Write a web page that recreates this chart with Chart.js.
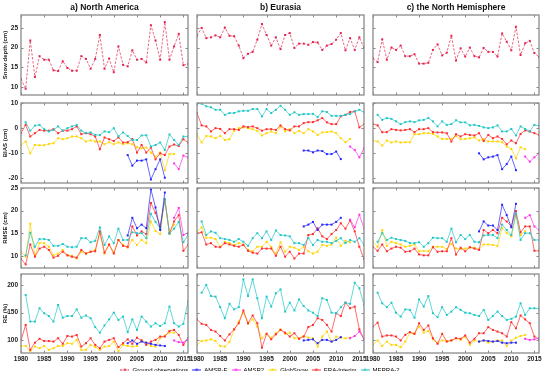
<!DOCTYPE html>
<html>
<head>
<meta charset="utf-8">
<title>Snow depth evaluation</title>
<script src="https://cdn.jsdelivr.net/npm/chart.js@4.4.1/dist/chart.umd.min.js"></script>
<style>
  html, body { margin: 0; padding: 0; background: #ffffff; }
  #fig { position: relative; width: 550px; height: 378px; overflow: hidden; }
  #fig canvas { position: absolute; }
</style>
</head>
<body>
<div id="fig"></div>
<script>
// x axis
const years = [1980, 1981, 1982, 1983, 1984, 1985, 1986, 1987, 1988, 1989,
               1990, 1991, 1992, 1993, 1994, 1995, 1996, 1997, 1998, 1999,
               2000, 2001, 2002, 2003, 2004, 2005, 2006, 2007, 2008, 2009,
               2010, 2011, 2012, 2013, 2014, 2015, 2016];
const merraYears = years.slice(1);       // 1981-2016
const globYears = years.slice(0, 34);    // 1980-2013
const amsreYears = years.slice(23, 32);  // 2003-2011
const amsr2Years = years.slice(33);      // 2013-2016

const regions = ['a) North America', 'b) Eurasia', 'c) the North Hemisphere'];
const rowLabels = ['Snow depth (cm)', 'BIAS (cm)', 'RMSE (cm)', 'RE (%)'];
const seriesNames = ['Ground observations', 'AMSR-E', 'AMSR2', 'GlobSnow', 'ERA-Interim', 'MERRA-2'];
const xTicks = [1980, 1985, 1990, 1995, 2000, 2005, 2010, 2015];
const yTicks = [[10, 15, 20, 25], [-20, -10, 0, 10], [10, 15, 20, 25], [100, 150, 200]];
const yRange = [[7.9, 28.3], [-21.8, 10], [7.3, 25], [77.4, 219.7]];

// ground observations (snow depth)
const groundNA = [12.0, 9.5, 21.8, 12.5, 17.8, 16.9, 16.9, 14.2, 14.0, 16.5, 14.8, 14.1, 14.1, 17.8, 17.1, 14.6, 17.1, 23.2, 14.6, 17.2, 13.7, 20.3, 15.6, 15.2, 19.3, 16.9, 17.1, 16.2, 25.7, 21.8, 16.9, 26.5, 16.9, 20.3, 23.5, 15.5, 15.8];
const groundEU = [23.0, 25.0, 22.4, 22.6, 23.1, 22.6, 25.1, 23.0, 22.9, 20.5, 17.3, 18.4, 18.9, 22.0, 26.0, 23.2, 20.5, 22.6, 19.6, 23.2, 23.7, 19.9, 21.0, 21.0, 20.7, 21.4, 21.3, 19.4, 20.5, 20.9, 22.0, 23.7, 19.3, 22.4, 19.4, 22.6, 19.9];
const groundNH = [17.3, 16.3, 22.1, 16.9, 20.0, 19.4, 20.5, 17.8, 17.8, 18.3, 15.9, 15.9, 16.1, 19.4, 20.8, 18.0, 18.7, 23.0, 16.7, 19.8, 17.7, 20.0, 17.8, 17.5, 19.9, 18.9, 18.9, 17.7, 23.6, 21.5, 19.3, 25.3, 18.1, 21.1, 21.7, 18.6, 17.6];

// BIAS
const naBiasAmsrE = [-10.7, -14.9, -12.9, -12.9, -12.4, -20.4, -16.3, -12.4, -19.7];
const naBiasAmsr2 = [-14, -16.3, -10.9, -11.7];
const naBiasGlob = [-6.7, -5.3, -10, -6.7, -6.8, -6.8, -6.3, -6, -4, -4.4, -4, -3.3, -3.3, -4, -5.3, -4.9, -5.3, -5.3, -6.4, -5.6, -6.4, -5.7, -6.4, -6, -6.4, -7.6, -8, -7.7, -9.7, -11.3, -9.7, -16.7, -10.3, -10.3];
const naBiasEra = [-2, 1.3, -3.3, -2, -0.7, -1, -1, -0.4, -2, -1, -1, -0.4, 0.7, -2.4, -2, -2.4, -3.3, -8.4, -3.7, -4.4, -5.1, -3.7, -5.7, -5.6, -4.3, -9.7, -6.7, -9.7, -7.7, -12.4, -10, -10.7, -7.3, -6.5, -7.1, -4.4, -5.7];
const naBiasMerra = [2.3, -1, 1, 1.3, -0.4, -1.3, -0.7, 0.7, -1, 0, 0.7, 1.3, -1, -2, -1.7, -2.7, -2.7, -1.3, -1.6, 0, -3.3, -1.7, -3.1, -4.7, -4.7, -2.9, -2.8, -7.3, -6.7, -5.7, -8.7, -2.5, -4.7, -6.7, -3.3, -3.3];

const euBiasAmsrE = [-8.9, -8.9, -9.6, -8.9, -9.1, -10.3, -10.3, -9.3, -12.3];
const euBiasAmsr2 = [-7.3, -8.7, -11.6, -8];
const euBiasGlob = [-2.4, -5.7, -3.1, -3.3, -4, -3.1, -4.7, -4.4, -1.1, 0, 0.3, 0, -0.4, -1.1, -2.9, -2, -1.3, -2, 0.4, -1.3, -0.4, -2, -1.1, -2, -0.4, -1.3, -2.7, -1.7, -1.6, -1.3, -2, -4, -5.6, -4.3];
const euBiasEra = [6, 1.1, 0.7, -1.3, 0, -0.3, -2, -0.4, -0.4, -0.7, 0.7, 0.4, 0.7, 0, -1, -0.4, -0.4, -0.7, 1.1, -0.4, -0.9, 0.7, 0.7, 2, 2.4, 2.4, 3.1, 4, 2.3, 1.6, 1.6, 4.7, 5.3, 6.4, 6.7, 0.3, 1.6];
const euBiasMerra = [9.7, 8.7, 8.3, 7.3, 7.3, 5.3, 6, 6, 6.7, 6.9, 6.9, 7.6, 7.6, 4.7, 7.6, 6, 7.3, 8.9, 7.3, 5.3, 6.3, 5.3, 5.6, 5.6, 5.7, 4.4, 6.7, 6.4, 4.9, 4.9, 4.9, 5.3, 5.6, 6.7, 7.3, 6.3];

const nhBiasAmsrE = [-10, -12.4, -11.6, -11.3, -10.7, -16.3, -14.3, -11.3, -16.7];
const nhBiasAmsr2 = [-11.3, -13.3, -11.6, -10];
const nhBiasGlob = [-4.9, -5.3, -6.9, -4.9, -5.7, -5.3, -5.7, -5.6, -5.6, -2.4, -2.4, -2, -2, -2.3, -3.3, -4.3, -4.3, -4.3, -3.1, -4.4, -4.3, -4, -3.7, -4.9, -4.4, -5.3, -5.3, -5.3, -5.6, -7.3, -8.3, -12, -7.6, -8.4];
const nhBiasEra = [1.7, 1.1, -1.6, -1.6, -0.4, -0.7, -0.9, -0.7, -0.4, -1.6, -0.4, -0.4, 0, -1.6, -1.7, -1.7, -2, -5.3, -2.4, -3.3, -2.4, -2.7, -2.9, -2, -5.1, -2.7, -4, -3.3, -4.3, -6.4, -4.9, -6, -2.3, -0.9, -1.3, -2, -2.7];
const nhBiasMerra = [5.3, 3.3, 4, 3.7, 2.7, 1.6, 2.4, 2.7, 2.4, 3.1, 3.3, 4, 2.7, 0.7, 2.7, 1.3, 1.6, 3.1, 2.3, 2.3, 1.1, 1.3, 0.9, 0.3, 0, 0.3, 1.1, -1.3, -1.3, -0.3, -2.9, 0.7, -0.3, -1.3, 1.3, 0.9];

// RMSE
const naRmseAmsrE = [14.5, 18.4, 16.1, 16.9, 16.1, 24.7, 20.7, 15.7, 24];
const naRmseAmsr2 = [18.4, 20.6, 14.6, 15.1];
const naRmseGlob = [10.9, 9.8, 17.1, 10.1, 12.8, 12.8, 12, 10.1, 10.5, 11.3, 10.1, 10, 9.4, 10.9, 10.5, 10.9, 11.3, 15, 10.5, 12.5, 10.7, 13.5, 12.4, 11.8, 13.5, 12.4, 13.5, 12.8, 17.6, 15.5, 14.8, 22.5, 14.9, 16.9];
const naRmseEra = [9.3, 8.1, 12.5, 9.8, 11.6, 12, 11.3, 9.6, 10, 10.9, 10.1, 9.8, 9.6, 11.3, 10.5, 10.9, 11, 15.4, 10.7, 12.5, 10.5, 13.5, 12.2, 12, 16.5, 14.5, 15.4, 14.8, 21.7, 19.5, 16.5, 22.5, 15, 17.6, 19, 11.1, 12.4];
const naRmseMerra = [10.1, 15.1, 12, 13.7, 13.7, 13.5, 12.2, 12.2, 12.6, 12, 11.9, 12, 13.9, 13.9, 13, 13.3, 16.3, 12.4, 14.3, 12.8, 16, 13.5, 13.5, 15.2, 15, 15, 13.9, 19.3, 17.5, 16.1, 22.5, 14.9, 16, 17.5, 13, 14.6];

const euRmseAmsrE = [16.5, 16.9, 17.5, 15.7, 16.9, 16.9, 16.9, 17.5, 18.4];
const euRmseAmsr2 = [18, 16.3, 19.1, 16.1];
const euRmseGlob = [15.4, 16.3, 14, 14, 13.7, 12, 13.1, 12.8, 12.4, 12.8, 12.5, 11.3, 11, 12, 12, 13.1, 12, 10.5, 13, 10.9, 12, 11.8, 11.3, 12, 11, 10.5, 10.9, 12.4, 12.2, 12.5, 14, 12.2, 13.3, 13];
const euRmseEra = [15, 15.2, 12.5, 12.8, 12, 11.9, 12.8, 12.5, 12.2, 12, 12.4, 11.1, 10.7, 10.5, 11.6, 11.6, 11.6, 10, 12, 9.8, 10.9, 9.4, 10.5, 10.5, 14.6, 14.8, 16.1, 14.3, 13.7, 14.8, 15.7, 17.2, 16, 17.8, 15.4, 12, 9.3];
const euRmseMerra = [17.6, 14.6, 15.4, 15.1, 13.9, 13.7, 13.5, 13.1, 13.7, 13.1, 12.2, 13.9, 15, 13.9, 15.4, 13.5, 15.6, 14.6, 14.5, 14.3, 12.8, 12.8, 12.4, 13.9, 12.4, 13.5, 13.1, 13.1, 12.8, 13.3, 13.9, 12.8, 13.5, 13.1, 13.9, 12.4];

const nhRmseAmsrE = [15.4, 17.6, 16.7, 16.7, 15.7, 21.3, 19, 16.3, 21.5];
const nhRmseAmsr2 = [18.4, 19, 16.5, 15.7];
const nhRmseGlob = [13, 12, 15.7, 12.2, 13.1, 12.8, 12.5, 12, 12.2, 12.5, 11, 11.1, 11, 12, 12, 12, 11.5, 12.6, 11.6, 11.5, 11.6, 11.8, 11.8, 11.4, 12.5, 12.5, 12.4, 12.2, 16.1, 15, 14.3, 19.1, 14.6, 15.4];
const nhRmseEra = [12, 11.1, 12.5, 11, 11.6, 12, 11.8, 10.9, 11, 11.6, 10.3, 10.1, 10.1, 11.9, 10.9, 11, 11, 13.9, 10.3, 11.8, 11, 11.9, 11.6, 11.3, 15.7, 15, 15.7, 15, 18.4, 17.6, 16.5, 19.9, 15.2, 16.5, 16.5, 11.1, 11.1];
const nhRmseMerra = [13.1, 15, 13.5, 14, 13.7, 13.5, 13.3, 12.8, 12.8, 13, 12, 12.8, 14, 13.9, 13.9, 13.1, 16, 13, 14.6, 13.7, 14.6, 13.1, 13, 14.5, 14.6, 14.6, 13.9, 16.9, 15.7, 14.6, 19.3, 13.5, 15, 15, 13.5, 13.5];

// RE
const naReAmsrE = [95, 100, 94, 98, 96, 94, 92, 91, 90];
const naReAmsr2 = [100, 97, 96, 104];
const naReGlob = [90, 90, 81, 89, 86, 90, 83, 86, 90, 90, 95, 94, 101, 83, 83, 92, 88, 83, 89, 90, 98, 81, 92, 90, 89, 90, 100, 96, 90, 89, 104, 109, 114, 114];
const naReEra = [100, 128, 83, 96, 103, 99, 99, 98, 104, 94, 108, 107, 110, 89, 95, 104, 92, 86, 98, 101, 104, 88, 95, 102, 94, 105, 100, 92, 98, 101, 107, 107, 117, 119, 110, 92, 104];
const naReMerra = [182, 134, 134, 158, 149, 144, 134, 164, 141, 144, 144, 156, 141, 145, 140, 124, 114, 127, 138, 150, 137, 143, 115, 138, 119, 143, 134, 125, 131, 126, 131, 161, 131, 125, 130, 170];

const euReAmsrE = [100, 101, 102, 95, 101, 101, 98, 101, 106];
const euReAmsr2 = [104, 108, 116, 102];
const euReGlob = [92, 99, 100, 102, 99, 90, 89, 97, 120, 134, 150, 130, 138, 125, 104, 112, 105, 113, 120, 112, 114, 104, 104, 108, 105, 104, 89, 107, 116, 98, 107, 105, 104, 105];
const euReEra = [138, 130, 128, 119, 116, 108, 100, 111, 120, 131, 154, 131, 145, 131, 87, 112, 102, 111, 119, 114, 107, 113, 103, 107, 124, 128, 140, 137, 128, 116, 149, 144, 168, 158, 161, 120, 102];
const euReMerra = [186, 200, 180, 179, 160, 140, 166, 156, 160, 210, 180, 210, 176, 140, 179, 161, 185, 192, 152, 168, 154, 174, 162, 154, 150, 144, 176, 173, 150, 149, 160, 168, 166, 204, 194, 164];

const nhReAmsrE = [98, 100, 99, 98, 99, 96, 95, 96, 96];
const nhReAmsr2 = [103, 101, 102, 104];
const nhReGlob = [92, 100, 90, 98, 92, 92, 88, 98, 114, 112, 125, 114, 117, 102, 96, 100, 99, 100, 104, 101, 107, 92, 100, 98, 100, 96, 98, 100, 100, 90, 100, 105, 108, 110];
const nhReEra = [125, 132, 107, 109, 109, 107, 100, 110, 115, 112, 131, 119, 127, 104, 94, 112, 98, 100, 104, 103, 109, 96, 103, 113, 113, 124, 119, 116, 113, 107, 133, 122, 145, 138, 131, 107, 102];
const nhReMerra = [186, 167, 160, 168, 150, 143, 156, 155, 141, 174, 161, 180, 149, 142, 160, 146, 152, 160, 155, 150, 149, 146, 144, 155, 137, 144, 152, 144, 137, 139, 143, 167, 146, 158, 158, 157];

// colours, same order as seriesNames
const colors = ['#e2224c', '#2424ff', '#ff30ee', '#ffd400', '#ff2b2b', '#1fc6c6'];

Chart.defaults.font.family = '"Liberation Sans", Arial, sans-serif';
Chart.defaults.color = '#222';

const fig = document.getElementById('fig');
const colLeft = [21, 197, 373];
const colWidth = [167, 167, 166];
const rowTop = [15, 103, 188, 274];
const rowBottom = [95, 183, 268, 353];

function pts(yrs, vals) {
  return vals.map((v, i) => ({ x: yrs[i], y: v }));
}

function lineSet(idx, yrs, vals, dashed) {
  return {
    label: seriesNames[idx],
    data: pts(yrs, vals),
    borderColor: colors[idx] + 'b0',
    backgroundColor: colors[idx],
    pointBorderColor: colors[idx],
    borderWidth: 1,
    borderDash: dashed ? [2.5, 1.5] : [],
    pointStyle: 'rect',
    pointRadius: 1.4,
    pointBorderWidth: 0,
    tension: 0
  };
}

// grey box with inward tick marks, like the original axes
const boxTicks = {
  id: 'boxTicks',
  afterDatasetsDraw(chart) {
    const { ctx, chartArea: a, scales: { x, y } } = chart;
    ctx.save();
    ctx.strokeStyle = '#8a8a8a';
    ctx.lineWidth = 1;
    ctx.beginPath();
    x.ticks.forEach(t => {
      const px = Math.round(x.getPixelForValue(t.value)) + 0.5;
      ctx.moveTo(px, a.top); ctx.lineTo(px, a.top + 2.5);
      ctx.moveTo(px, a.bottom); ctx.lineTo(px, a.bottom - 2.5);
    });
    y.ticks.forEach(t => {
      const py = Math.round(y.getPixelForValue(t.value)) + 0.5;
      ctx.moveTo(a.left, py); ctx.lineTo(a.left + 2.5, py);
      ctx.moveTo(a.right, py); ctx.lineTo(a.right - 2.5, py);
    });
    ctx.stroke();
    ctx.lineWidth = 1.3;
    ctx.strokeRect(a.left, a.top, a.right - a.left, a.bottom - a.top);
    ctx.restore();
  }
};

function panel(row, col, datasets) {
  const yw = col === 0 ? 21 : 10;
  const padR = 8;
  const titleH = row === 0 ? 15 : 0;
  const padT = row === 0 ? 0 : 8;
  const padB = 8;
  const xh = row === 3 ? 12 : 0;
  const plotH = rowBottom[row] - rowTop[row];

  const cv = document.createElement('canvas');
  cv.width = yw + colWidth[col] + padR;
  cv.height = titleH + padT + plotH + padB + xh;
  cv.style.left = (colLeft[col] - yw) + 'px';
  cv.style.top = (rowTop[row] - padT - titleH) + 'px';
  fig.appendChild(cv);

  new Chart(cv, {
    type: 'line',
    data: { datasets: datasets },
    options: {
      responsive: false,
      animation: false,
      events: [],
      layout: { padding: { left: 0, right: padR, top: padT, bottom: padB } },
      plugins: {
        legend: { display: false },
        tooltip: { enabled: false },
        title: {
          display: row === 0,
          text: regions[col],
          fullSize: false,
          font: { size: 8.5, weight: 'bold', lineHeight: '10px' },
          color: '#111',
          padding: { top: 3, bottom: 2 }
        }
      },
      scales: {
        x: {
          type: 'linear',
          bounds: 'data',
          min: 1980,
          max: 2016,
          afterBuildTicks: s => { s.ticks = xTicks.map(v => ({ value: v })); },
          afterFit: s => { s.height = xh; },
          grid: { display: false, drawTicks: false },
          border: { display: false },
          ticks: {
            display: row === 3,
            autoSkip: false,
            maxRotation: 0,
            padding: 2,
            font: { size: 6.5, weight: 'bold' },
            callback: v => String(v)
          }
        },
        y: {
          type: 'linear',
          bounds: 'data',
          min: yRange[row][0],
          max: yRange[row][1],
          afterBuildTicks: s => { s.ticks = yTicks[row].map(v => ({ value: v })); },
          afterFit: s => { s.width = yw; },
          grid: { display: false, drawTicks: false },
          border: { display: false },
          ticks: {
            display: col === 0,
            padding: 3,
            font: { size: 6.5, weight: 'bold' },
            callback: v => String(v)
          },
          title: {
            display: col === 0,
            text: rowLabels[row],
            font: { size: 6, weight: 'bold' },
            padding: { top: 2, bottom: 0 }
          }
        }
      }
    },
    plugins: [boxTicks]
  });
}

function fiveSets(amsre, amsr2, glob, era, merra) {
  return [
    lineSet(1, amsreYears, amsre),
    lineSet(2, amsr2Years, amsr2),
    lineSet(5, merraYears, merra),
    lineSet(4, years, era),
    lineSet(3, globYears, glob)
  ];
}

panel(0, 0, [lineSet(0, years, groundNA, true)]);
panel(0, 1, [lineSet(0, years, groundEU, true)]);
panel(0, 2, [lineSet(0, years, groundNH, true)]);

panel(1, 0, fiveSets(naBiasAmsrE, naBiasAmsr2, naBiasGlob, naBiasEra, naBiasMerra));
panel(1, 1, fiveSets(euBiasAmsrE, euBiasAmsr2, euBiasGlob, euBiasEra, euBiasMerra));
panel(1, 2, fiveSets(nhBiasAmsrE, nhBiasAmsr2, nhBiasGlob, nhBiasEra, nhBiasMerra));

panel(2, 0, fiveSets(naRmseAmsrE, naRmseAmsr2, naRmseGlob, naRmseEra, naRmseMerra));
panel(2, 1, fiveSets(euRmseAmsrE, euRmseAmsr2, euRmseGlob, euRmseEra, euRmseMerra));
panel(2, 2, fiveSets(nhRmseAmsrE, nhRmseAmsr2, nhRmseGlob, nhRmseEra, nhRmseMerra));

panel(3, 0, fiveSets(naReAmsrE, naReAmsr2, naReGlob, naReEra, naReMerra));
panel(3, 1, fiveSets(euReAmsrE, euReAmsr2, euReGlob, euReEra, euReMerra));
panel(3, 2, fiveSets(nhReAmsrE, nhReAmsr2, nhReGlob, nhReEra, nhReMerra));

// legend: small icons of line + square marker
function legendIcon(color, dashed) {
  const c = document.createElement('canvas');
  c.width = 9; c.height = 5;
  const g = c.getContext('2d');
  g.strokeStyle = color;
  g.lineWidth = 1;
  if (dashed) g.setLineDash([2, 1.5]);
  g.beginPath(); g.moveTo(0, 2.5); g.lineTo(9, 2.5); g.stroke();
  g.fillStyle = color;
  g.fillRect(3.3, 1.3, 2.4, 2.4);
  return c;
}

const legendCanvas = document.createElement('canvas');
legendCanvas.width = 440;
legendCanvas.height = 16;
legendCanvas.style.left = '40px';
legendCanvas.style.top = '363px';
fig.appendChild(legendCanvas);

new Chart(legendCanvas, {
  type: 'line',
  data: { datasets: seriesNames.map(n => ({ label: n, data: [] })) },
  options: {
    responsive: false,
    animation: false,
    events: [],
    scales: { x: { display: false }, y: { display: false } },
    plugins: {
      tooltip: { enabled: false },
      legend: {
        position: 'top',
        labels: {
          usePointStyle: true,
          pointStyleWidth: 9,
          boxHeight: 6,
          padding: 4,
          color: '#222',
          font: { size: 6 },
          generateLabels: () => seriesNames.map((n, i) => ({
            text: n,
            fillStyle: colors[i],
            strokeStyle: colors[i],
            lineWidth: 0,
            pointStyle: legendIcon(colors[i], i === 0),
            hidden: false,
            datasetIndex: i
          }))
        }
      }
    }
  }
});
</script>
</body>
</html>
